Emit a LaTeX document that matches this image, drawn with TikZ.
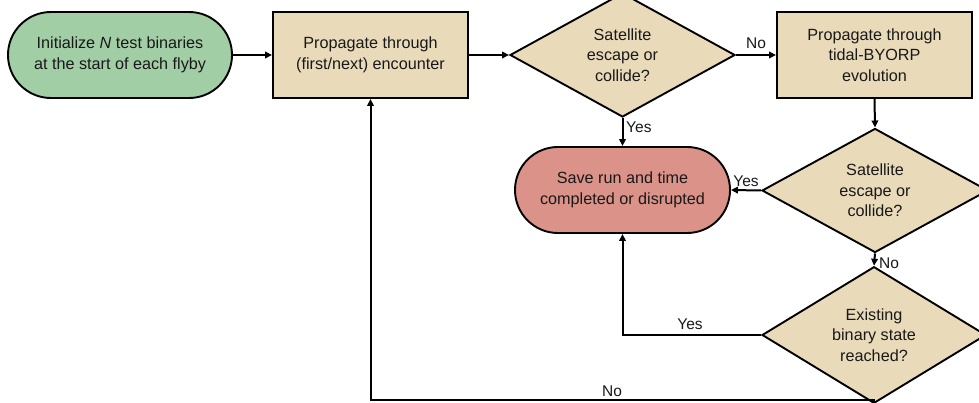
\documentclass[tikz,border=0pt]{standalone}
\usepackage{fontspec}
\setmainfont{Liberation Sans}
\usetikzlibrary{shapes.geometric,arrows.meta}
\definecolor{termgreen}{RGB}{162,206,166}
\definecolor{boxtan}{RGB}{233,218,186}
\definecolor{termred}{RGB}{219,146,136}
\tikzset{
  base/.style={draw=black, line width=1.9pt, align=center, inner sep=0pt,
    font=\fontsize{16.2}{20.5}\selectfont, text=black!90},
  terminal/.style={base, rectangle, rounded corners=42.9pt, minimum height=86pt},
  procbox/.style={base, rectangle, fill=boxtan, minimum width=195pt, minimum height=86pt},
  decision/.style={base, diamond, fill=boxtan, minimum width=225pt, minimum height=104pt},
  arr/.style={draw=black, line width=2pt, -{Triangle[length=7pt,width=6.5pt]}},
  lbl/.style={font=\fontsize{15.5}{18}\selectfont, text=black!90, inner sep=0pt}
}
\begin{document}
\begin{tikzpicture}[x=1pt,y=-1pt]
\useasboundingbox (0,0) rectangle (979,403);
\node[terminal, fill=termgreen, minimum width=224pt] (init) at (120,55)
  {Initialize \textit{N} test binaries\\at the start of each flyby};
\node[procbox] (prop1) at (370.5,55) {Propagate through\\(first/next) encounter};
\node[decision] (dec1) at (622.5,55) {Satellite\\escape or\\collide?};
\node[procbox] (prop2) at (874.5,55) {Propagate through\\tidal-BYORP\\evolution};
\node[terminal, fill=termred, minimum width=215pt] (save) at (622.5,190)
  {Save run and time\\completed or disrupted};
\node[decision, minimum width=226pt, minimum height=103pt] (dec2) at (875,190.5) {Satellite\\escape or\\collide?};
\node[decision, minimum width=224pt, minimum height=104pt] (dec3) at (874,335) {Existing\\binary state\\reached?};

\draw[arr] (init.east) -- (prop1.west);
\draw[arr] (prop1.east) -- (dec1.west);
\draw[arr] (dec1.east) -- node[lbl, above=5pt] (lno1) {No} (prop2.west);
\draw[arr] (dec1.south) -- (save.north);
\node[lbl, anchor=west] (lyes1) at (626,127) {Yes};
\draw[arr] (prop2.south) -- (dec2.north);
\draw[arr] (dec2.west) -- node[lbl, above=3pt] (lyes2) {Yes} (save.east);
\draw[arr] (dec2.south) -- (dec3.north);
\node[lbl, anchor=west] (lno2) at (879,263) {No};
\draw[arr] (dec3.west) -| (save.south);
\node[lbl] (lyes3) at (690,324) {Yes};
\coordinate (bot) at (874,400);
\draw[arr] (dec3.south) -- (bot) -| (prop1.south);
\node[lbl] (lno3) at (612,391) {No};
\end{tikzpicture}
\end{document}
